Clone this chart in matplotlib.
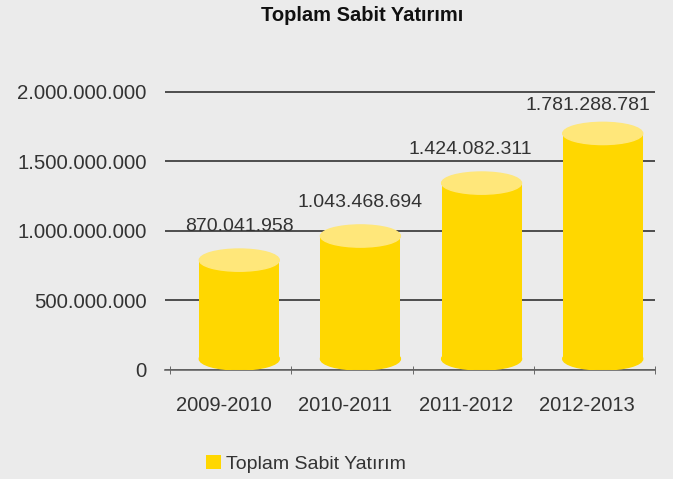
import matplotlib
matplotlib.use("Agg")
import matplotlib.pyplot as plt
from matplotlib.patches import Ellipse
from matplotlib.ticker import FuncFormatter

plt.rcParams['font.family'] = ['Liberation Sans', 'DejaVu Sans']

years = ['2009-2010', '2010-2011', '2011-2012', '2012-2013']
values = [870041958, 1043468694, 1424082311, 1781288781]
yticks = [0, 500000000, 1000000000, 1500000000, 2000000000]


def dots(v):
    return f"{int(v):,}".replace(',', '.')


bg = '#ebebeb'
body = '#ffd700'
top = '#ffe77a'
cap_h = 160e6   # ellipse height in data units
w = 0.66

fig = plt.figure(figsize=(6.73, 4.79), dpi=100, facecolor=bg)
ax = fig.add_axes([0.245, 0.2276, 0.728, 0.595])
ax.set_facecolor(bg)

xs = [i + 0.07 for i in range(len(years))]
ax.bar(xs, [v - cap_h for v in values], bottom=cap_h / 2, width=w,
       color=body, zorder=3, label='Toplam Sabit Yatırım')

# label nudges so they sit like the original
lab_dx = [0.0, 0.0, -0.09, -0.12]
lab_dy = [13, 13, 13, 9]
for x, v, dx, dy in zip(xs, values, lab_dx, lab_dy):
    ax.add_patch(Ellipse((x, cap_h / 2), w, cap_h, color=body, zorder=3))
    ax.add_patch(Ellipse((x, v - cap_h / 2), w, cap_h, color=top, zorder=4))
    ax.annotate(dots(v), (x + dx, v), xytext=(0, dy), textcoords='offset points',
                ha='center', va='baseline', fontsize=14, color='#333333', zorder=5)

ax.set_xlim(-0.544, 3.495)
ax.set_ylim(0, 2.05e9)
ax.set_yticks(yticks)
ax.yaxis.set_major_formatter(FuncFormatter(lambda v, p: dots(v)))
ax.grid(axis='y', color='#4d4d4d', linewidth=1.4, zorder=1)
ax.set_axisbelow(True)

ax.set_xticks([i - 0.06 for i in range(len(years))])
ax.set_xticklabels(years)
ax.set_xticks([i - 0.5 for i in range(len(years) + 1)], minor=True)
ax.tick_params(axis='x', which='major', length=0, pad=19, labelsize=14.5, labelcolor='#333333')
ax.tick_params(axis='x', which='minor', length=6, direction='inout', color='#555555')
ax.tick_params(axis='y', length=0, pad=13, labelsize=14.7, labelcolor='#333333')

for s in ['top', 'right', 'left']:
    ax.spines[s].set_visible(False)
ax.spines['bottom'].set_color('#666666')
ax.spines['bottom'].set_linewidth(1.2)

fig.text(0.538, 0.968, 'Toplam Sabit Yatırımı', ha='center', va='center',
         fontsize=14.5, fontweight='bold', color='#111111')

fig.legend(loc='center', bbox_to_anchor=(0.455, 0.031), frameon=False,
           handlelength=0.75, handleheight=0.75, handletextpad=0.3,
           fontsize=14, labelcolor='#333333')

fig.savefig('out.png', dpi=100, facecolor=bg)
